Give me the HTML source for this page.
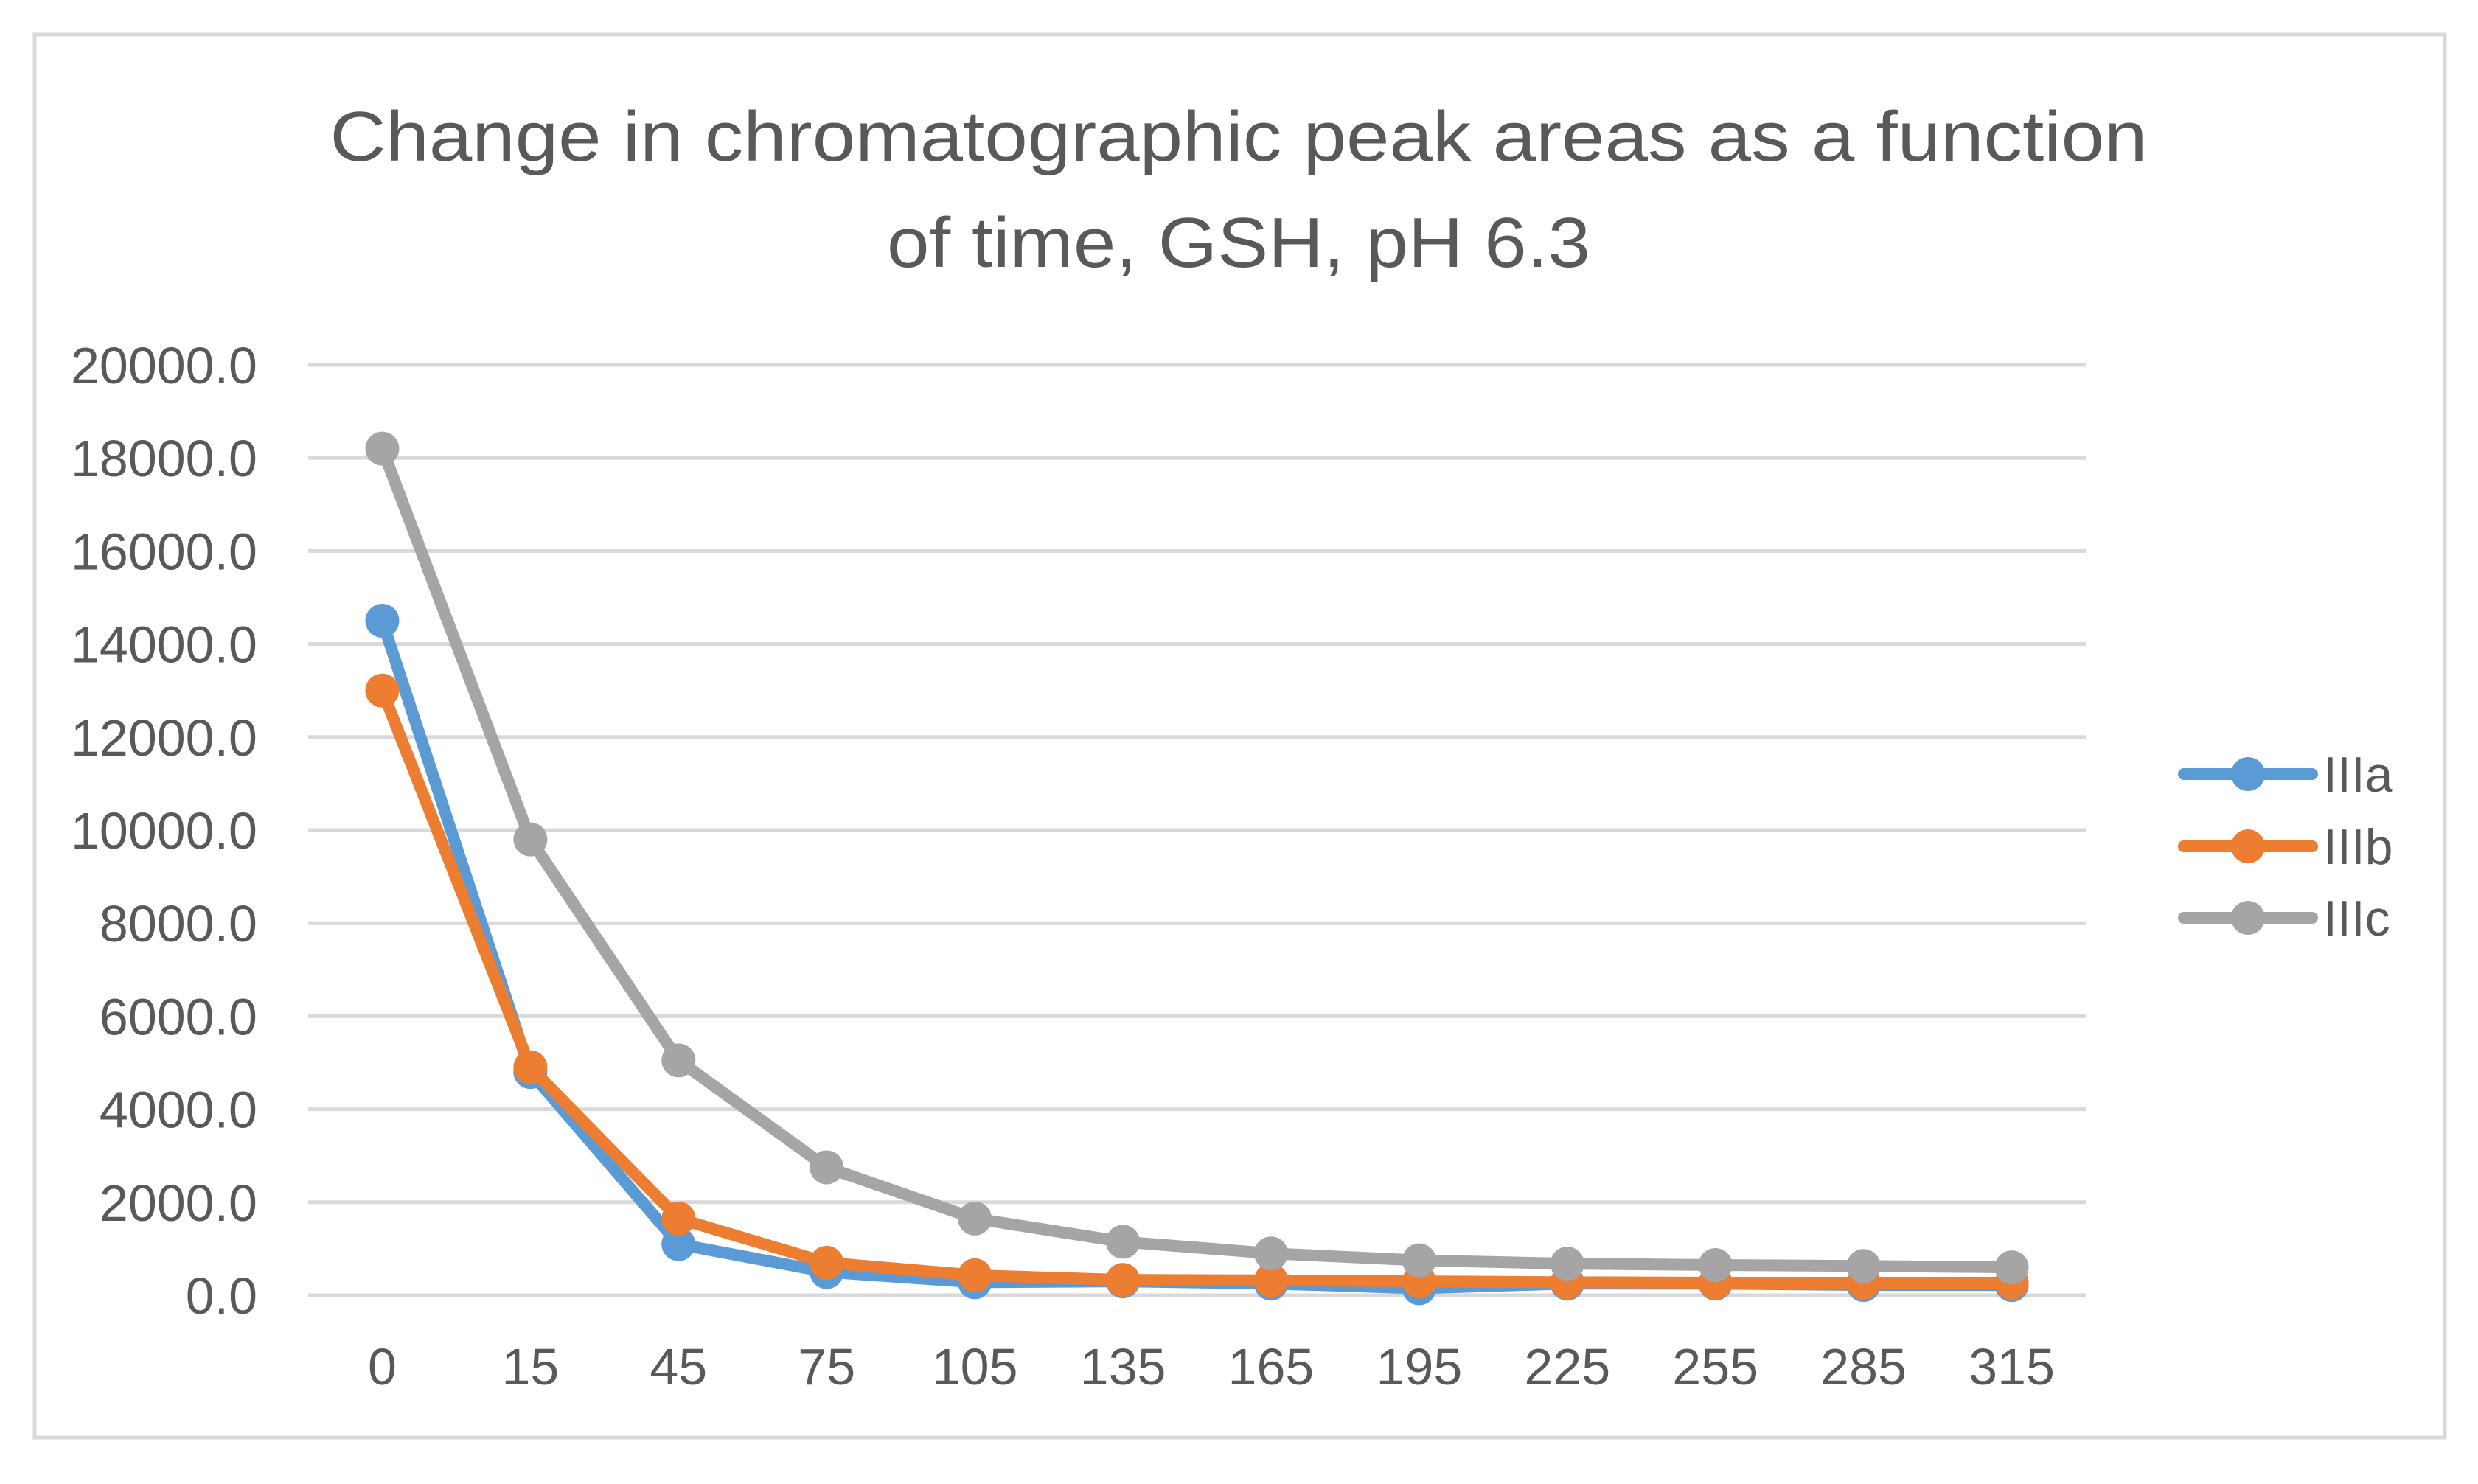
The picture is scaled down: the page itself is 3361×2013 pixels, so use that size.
<!DOCTYPE html>
<html><head><meta charset="utf-8"><style>
html,body{margin:0;padding:0;background:#fff;}
svg{display:block;font-family:"Liberation Sans",sans-serif;}
</style></head><body>
<svg id="chart" width="3361" height="2013" viewBox="0 0 3361 2013" xmlns="http://www.w3.org/2000/svg">
<rect x="47" y="47" width="3269" height="1903" fill="#fff" stroke="#d9d9d9" stroke-width="5"/>
<text x="1680" y="218" text-anchor="middle" font-size="96" fill="#595959" textLength="2465" lengthAdjust="spacingAndGlyphs">Change in chromatographic peak areas as a function</text>
<text x="1680" y="362" text-anchor="middle" font-size="96" fill="#595959" textLength="954" lengthAdjust="spacingAndGlyphs">of time, GSH, pH 6.3</text>
<g id="grid"></g><g id="series"></g><g id="legend"></g>
</svg>
<script>
const categories = ["0","15","45","75","105","135","165","195","225","255","285","315"];
const yTicks = [0,2000,4000,6000,8000,10000,12000,14000,16000,18000,20000];
const seriesNames = ["IIIa","IIIb","IIIc"];
const valuesIIIa = [14500,4800,1100,500,280,300,250,150,250,250,220,220];
const valuesIIIb = [13000,4900,1650,700,430,330,320,300,280,270,270,270];
const valuesIIIc = [18200,9800,5050,2750,1650,1150,900,750,680,650,630,600];
const colors = ["#5b9bd5","#ed7d31","#a5a5a5"];

const NS="http://www.w3.org/2000/svg";
const plotL=418, plotR=2829, plotTop=495, plotBot=1757, yMax=20000;
const step=(plotR-plotL)/categories.length;
function xPos(i){return plotL+step*(i+0.5);}
function yPos(v){return plotBot-(v/yMax)*(plotBot-plotTop);}
function mk(tag,attrs,parent){const e=document.createElementNS(NS,tag);for(const k in attrs)e.setAttribute(k,attrs[k]);parent.appendChild(e);return e;}
const grid=document.getElementById('grid');
yTicks.forEach(t=>{
  const l=mk('line',{x1:plotL,x2:plotR,y1:yPos(t),y2:yPos(t),stroke:'#d9d9d9','stroke-width':5},grid);
  
  
  const tx=mk('text',{x:349,y:yPos(t)+25,'text-anchor':'end','font-size':70,fill:'#595959'},grid);
  tx.textContent=t.toFixed(1);
  
  
});
categories.forEach((c,i)=>{
  const tx=mk('text',{x:xPos(i),y:1878,'text-anchor':'middle','font-size':70,fill:'#595959'},grid);
  tx.textContent=c;
  
  
});
const sg=document.getElementById('series');
[valuesIIIa,valuesIIIb,valuesIIIc].forEach((vals,s)=>{
  const g=mk('g',{},sg);
  
  
  const pts=vals.map((v,i)=>xPos(i)+','+yPos(v)).join(' ');
  const pl=mk('polyline',{points:pts,fill:'none',stroke:colors[s],'stroke-width':16,'stroke-linejoin':'round','stroke-linecap':'round'},g);
  
  
  vals.forEach((v,i)=>{
    const c=mk('circle',{cx:xPos(i),cy:yPos(v),r:23,fill:colors[s]},g);
    
    
  });
});
const lg=document.getElementById('legend');


const legY=[1050,1148,1245];
seriesNames.forEach((n,s)=>{
  const g=mk('g',{},lg);
  
  
  mk('line',{x1:2962,x2:3136,y1:legY[s],y2:legY[s],stroke:colors[s],'stroke-width':16,'stroke-linecap':'round'},g);
  mk('circle',{cx:3049,cy:legY[s],r:23,fill:colors[s]},g);
  const t=mk('text',{x:3151,y:legY[s]+24,'font-size':68,fill:'#595959'},g);
  t.textContent=n;
});
</script>
</body></html>
